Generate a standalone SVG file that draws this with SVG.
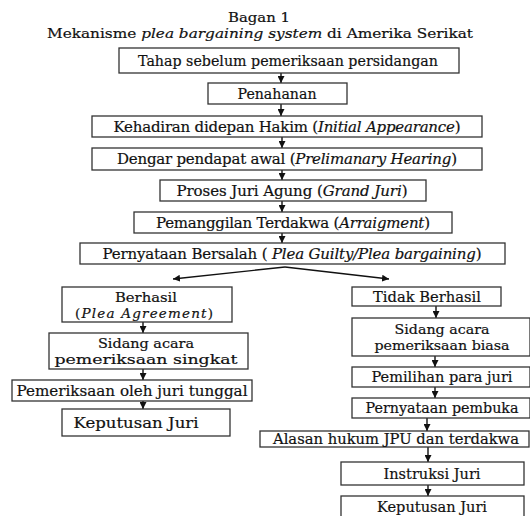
<svg xmlns="http://www.w3.org/2000/svg" width="530" height="516" viewBox="0 0 530 516">
<style>
text{font-family:"DejaVu Serif","Liberation Serif",serif;font-size:15px;fill:#111;stroke:#111;stroke-width:0.2;text-anchor:middle}
text.m{font-size:13.5px}
.i{font-style:italic}
rect{fill:#fff;stroke:#333;stroke-width:1.3}
.c line{stroke:#111;stroke-width:1.4}
</style>
<defs>
<marker id="ah" viewBox="0 0 10 10" refX="10" refY="5" markerWidth="7" markerHeight="7" markerUnits="userSpaceOnUse" orient="auto">
<path d="M0,0L10,5L0,10z" fill="#111"/>
</marker>
</defs>
<rect x="0" y="0" width="530" height="516" style="fill:#fff;stroke:none"/>
<g id="title">
<text class="m" x="259" y="21.5" textLength="62" lengthAdjust="spacingAndGlyphs">Bagan 1</text>
<text class="m" x="260" y="38" textLength="426" lengthAdjust="spacingAndGlyphs">Mekanisme <tspan class="i">plea bargaining system</tspan> di Amerika Serikat</text>
</g>
<g class="c" id="connectors">
<line x1="281" y1="73" x2="281" y2="83" marker-end="url(#ah)"/>
<line x1="281" y1="104" x2="281" y2="116" marker-end="url(#ah)"/>
<line x1="282" y1="137" x2="282" y2="148" marker-end="url(#ah)"/>
<line x1="282" y1="170" x2="282" y2="180" marker-end="url(#ah)"/>
<line x1="282" y1="201" x2="282" y2="212" marker-end="url(#ah)"/>
<line x1="282" y1="233" x2="282" y2="243" marker-end="url(#ah)"/>
<line x1="285" y1="267" x2="173" y2="279" marker-end="url(#ah)"/>
<line x1="285" y1="267" x2="389" y2="279" marker-end="url(#ah)"/>
<line x1="143" y1="322" x2="143" y2="333" marker-end="url(#ah)"/>
<line x1="143" y1="369" x2="143" y2="380" marker-end="url(#ah)"/>
<line x1="143" y1="401" x2="143" y2="409" marker-end="url(#ah)"/>
<line x1="436" y1="306" x2="436" y2="318" marker-end="url(#ah)"/>
<line x1="435" y1="356" x2="435" y2="367" marker-end="url(#ah)"/>
<line x1="435" y1="387" x2="435" y2="398" marker-end="url(#ah)"/>
<line x1="427" y1="418" x2="427" y2="431" marker-end="url(#ah)"/>
<line x1="428" y1="447" x2="428" y2="462" marker-end="url(#ah)"/>
<line x1="428" y1="485" x2="428" y2="496" marker-end="url(#ah)"/>
</g>
<g id="n1"><rect x="119" y="48" width="340" height="25"/><text x="288" y="66" textLength="300" lengthAdjust="spacingAndGlyphs">Tahap sebelum pemeriksaan persidangan</text></g>
<g id="n2"><rect x="208" y="83" width="139" height="21"/><text x="277" y="99" textLength="79" lengthAdjust="spacingAndGlyphs">Penahanan</text></g>
<g id="n3"><rect x="92" y="116" width="390" height="21"/><text x="287" y="132" textLength="347" lengthAdjust="spacing">Kehadiran didepan Hakim (<tspan class="i">Initial Appearance</tspan>)</text></g>
<g id="n4"><rect x="92" y="148" width="390" height="22"/><text x="287" y="164" textLength="340" lengthAdjust="spacing">Dengar pendapat awal (<tspan class="i">Prelimanary Hearing</tspan>)</text></g>
<g id="n5"><rect x="160" y="180" width="266" height="21"/><text x="292" y="196" textLength="231" lengthAdjust="spacing">Proses Juri Agung (<tspan class="i">Grand Juri</tspan>)</text></g>
<g id="n6"><rect x="134" y="212" width="318" height="21"/><text x="293" y="228" textLength="274" lengthAdjust="spacing">Pemanggilan Terdakwa (<tspan class="i">Arraigment</tspan>)</text></g>
<g id="n7"><rect x="80" y="243" width="425" height="21"/><text x="292" y="259" textLength="379" lengthAdjust="spacing">Pernyataan Bersalah ( <tspan class="i">Plea Guilty/Plea bargaining</tspan>)</text></g>
<g id="l1"><rect x="62" y="287" width="170" height="35"/><text class="m" x="146" y="301.5" textLength="62" lengthAdjust="spacingAndGlyphs">Berhasil</text><text class="m" x="144" y="317.5" textLength="138" lengthAdjust="spacing">(<tspan class="i">Plea Agreement</tspan>)</text></g>
<g id="l2"><rect x="49" y="333" width="199" height="36"/><text class="m" x="146" y="348" textLength="96" lengthAdjust="spacingAndGlyphs">Sidang acara</text><text class="m" x="146" y="364" textLength="183" lengthAdjust="spacingAndGlyphs">pemeriksaan singkat</text></g>
<g id="l3"><rect x="12" y="380" width="240" height="21"/><text x="132" y="396" textLength="231" lengthAdjust="spacingAndGlyphs">Pemeriksaan oleh juri tunggal</text></g>
<g id="l4"><rect x="62" y="409" width="168" height="27"/><text x="136" y="428" textLength="125" lengthAdjust="spacingAndGlyphs">Keputusan Juri</text></g>
<g id="r1"><rect x="352" y="287" width="149" height="19"/><text x="427" y="302" textLength="108" lengthAdjust="spacingAndGlyphs">Tidak Berhasil</text></g>
<g id="r2"><rect x="352" y="318" width="178" height="38"/><text class="m" x="442" y="333.5" textLength="95" lengthAdjust="spacingAndGlyphs">Sidang acara</text><text class="m" x="442" y="349.5" textLength="135" lengthAdjust="spacingAndGlyphs">pemeriksaan biasa</text></g>
<g id="r3"><rect x="352" y="367" width="178" height="20"/><text x="442" y="382" textLength="141" lengthAdjust="spacingAndGlyphs">Pemilihan para juri</text></g>
<g id="r4"><rect x="352" y="398" width="178" height="20"/><text x="442" y="413" textLength="153" lengthAdjust="spacingAndGlyphs">Pernyataan pembuka</text></g>
<g id="r5"><rect x="260" y="431" width="269" height="16"/><text x="396" y="444" textLength="246" lengthAdjust="spacingAndGlyphs">Alasan hukum JPU dan terdakwa</text></g>
<g id="r6"><rect x="341" y="462" width="183" height="23"/><text x="432" y="479" textLength="97" lengthAdjust="spacingAndGlyphs">Instruksi Juri</text></g>
<g id="r7"><rect x="341" y="496" width="183" height="30"/><text x="432" y="512" textLength="110" lengthAdjust="spacingAndGlyphs">Keputusan Juri</text></g>
</svg>
